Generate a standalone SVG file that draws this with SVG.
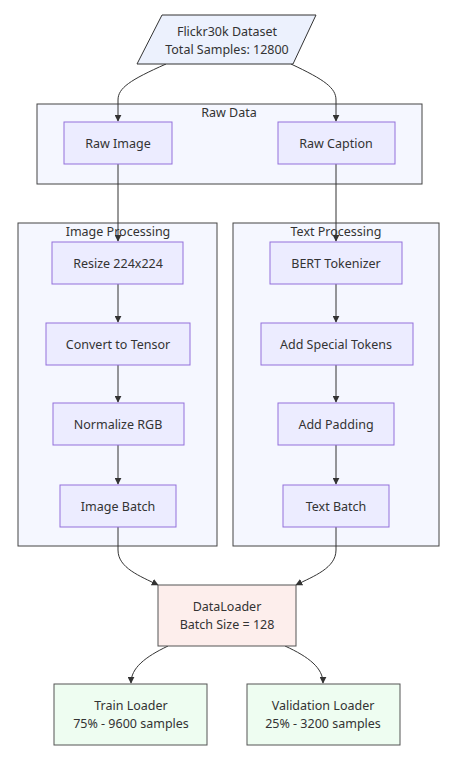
<svg xmlns="http://www.w3.org/2000/svg" width="457" height="760" viewBox="0 0 457 760">
<style>
text{font-family:"Noto Sans","Open Sans","DejaVu Sans",sans-serif;font-size:12.5px;fill:#333;text-anchor:middle;dominant-baseline:central}
.cl{fill:#F5F7FF;stroke:#444;stroke-width:1}
.n{fill:#ECECFF;stroke:#9370DB;stroke-width:1}
.e{fill:none;stroke:#333;stroke-width:1;marker-end:url(#ah)}
</style>
<defs>
<marker id="ah" viewBox="0 0 10 10" refX="9" refY="5" markerWidth="7" markerHeight="7" orient="auto" markerUnits="userSpaceOnUse">
<path d="M0,0L10,5L0,10z" fill="#333"/>
</marker>
</defs>
<g id="clusters">
<g id="rawdata"><rect class="cl" x="37" y="104" width="385" height="80"/><text x="229" y="112">Raw Data</text></g>
<g id="imgproc"><rect class="cl" x="18" y="223" width="199" height="323"/><text x="118" y="231">Image Processing</text></g>
<g id="txtproc"><rect class="cl" x="233" y="223" width="206" height="323"/><text x="336" y="231">Text Processing</text></g>
</g>
<g id="connectors">
<path class="e" d="M166,64 C130,80 118,88 118,100 L118,121"/>
<path class="e" d="M291,64 C325,80 336,88 336,100 L336,121"/>
<path class="e" d="M118,164 L118,241"/>
<path class="e" d="M336,164 L336,241"/>
<path class="e" d="M118,284 L118,322"/>
<path class="e" d="M118,365 L118,402"/>
<path class="e" d="M118,445 L118,484"/>
<path class="e" d="M336,284 L336,322"/>
<path class="e" d="M336,365 L336,402"/>
<path class="e" d="M336,445 L336,484"/>
<path class="e" d="M118,527 L118,550 C118,568 140,576 158,585"/>
<path class="e" d="M336,527 L336,550 C336,568 314,576 296,585"/>
<path class="e" d="M168,646 C145,657 131,668 131,683"/>
<path class="e" d="M285,646 C309,657 323,668 323,683"/>
</g>
<g id="dataset"><polygon points="162,15 316,15 293,64 137,64" fill="#ECF1FD" stroke="#333"/><text x="227" y="31">Flickr30k Dataset</text><text x="227" y="49">Total Samples: 12800</text></g>
<g id="rawimage"><rect class="n" x="64" y="122" width="108" height="42"/><text x="118" y="143">Raw Image</text></g>
<g id="rawcaption"><rect class="n" x="278" y="122" width="117" height="42"/><text x="336" y="143">Raw Caption</text></g>
<g id="resize"><rect class="n" x="52" y="242" width="131" height="42"/><text x="118" y="263">Resize 224x224</text></g>
<g id="tensor"><rect class="n" x="46" y="323" width="144" height="42"/><text x="118" y="344">Convert to Tensor</text></g>
<g id="normalize"><rect class="n" x="53" y="403" width="131" height="42"/><text x="118" y="424">Normalize RGB</text></g>
<g id="imagebatch"><rect class="n" x="60" y="485" width="116" height="42"/><text x="118" y="506">Image Batch</text></g>
<g id="bert"><rect class="n" x="270" y="242" width="132" height="42"/><text x="336" y="263">BERT Tokenizer</text></g>
<g id="special"><rect class="n" x="261" y="323" width="152" height="42"/><text x="336" y="344">Add Special Tokens</text></g>
<g id="padding"><rect class="n" x="278" y="403" width="116" height="42"/><text x="336" y="424">Add Padding</text></g>
<g id="textbatch"><rect class="n" x="283" y="485" width="106" height="42"/><text x="336" y="506">Text Batch</text></g>
<g id="dataloader"><rect x="158" y="585" width="138" height="61" fill="#FDEEEC" stroke="#555"/><text x="227" y="606">DataLoader</text><text x="227" y="624">Batch Size = 128</text></g>
<g id="train"><rect x="54" y="684" width="153" height="61" fill="#EEFDF1" stroke="#555"/><text x="131" y="705">Train Loader</text><text x="131" y="723">75% - 9600 samples</text></g>
<g id="val"><rect x="247" y="684" width="153" height="61" fill="#EEFDF1" stroke="#555"/><text x="323" y="705">Validation Loader</text><text x="323" y="723">25% - 3200 samples</text></g>
</svg>
